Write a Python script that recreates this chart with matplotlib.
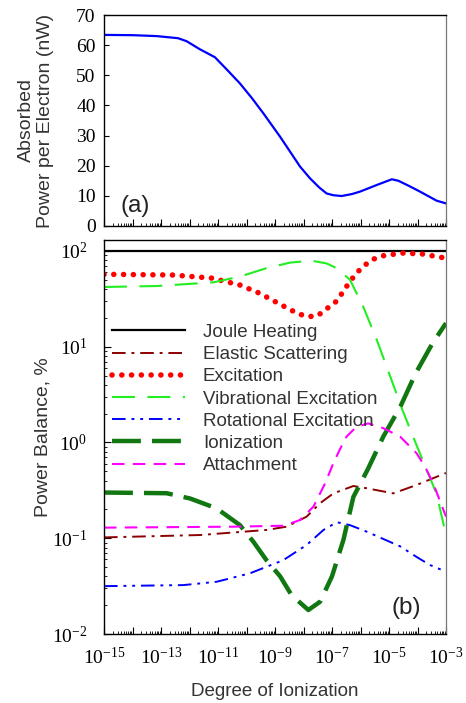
import numpy as np
import matplotlib
matplotlib.use("Agg")
import matplotlib.pyplot as plt
from matplotlib.ticker import FixedLocator, FuncFormatter, LogLocator, NullFormatter

plt.rcParams['font.family'] = ['Liberation Serif', 'DejaVu Serif']
plt.rcParams['mathtext.fontset'] = 'custom'
plt.rcParams['mathtext.rm'] = 'Liberation Serif'
plt.rcParams['mathtext.it'] = 'Liberation Serif:italic'

SANS = ['Liberation Sans', 'DejaVu Sans']

# ---------------- data (log10 of degree of ionization) ----------------
abs_x = [-15, -13.97, -13.15, -12.4, -12.1, -11.63, -11.11, -10.7, -10.23, -9.8, -9.41, -8.82, -8.12,
         -7.77, -7.45, -7.19, -6.95, -6.66, -6.3, -6.02, -5.43, -4.9, -4.67, -4.3, -3.91, -3.33, -3]
abs_y = [63.4, 63.3, 63.0, 62.3, 61.3, 58.6, 56.0, 52.0, 47.3, 42.3, 37.4, 29.6, 19.7,
         15.8, 12.8, 10.8, 10.2, 9.95, 10.6, 11.4, 13.6, 15.5, 15.0, 13.3, 11.4, 8.4, 7.5]

joule_x = [-15, -3]
joule_y = [100, 100]

elastic_x = [-15, -11.63, -9.3, -8.59, -7.89, -7.42, -6.95, -6.25, -5.77, -4.85, -4.03, -3]
elastic_y = [0.102, 0.108, 0.122, 0.132, 0.168, 0.232, 0.294, 0.351, 0.332, 0.294, 0.36, 0.48]

excit_x = [-15, -12.57, -11.22, -10.23, -9.53, -8.85, -8.18, -7.83, -7.51, -6.83, -6.6, -6.37, -6.13,
           -5.88, -5.55, -5.2, -4.55, -3.85, -3.2, -3]
excit_y = [57, 56, 52, 44, 36, 28, 22, 20.6, 21, 30, 38, 48, 59, 70, 82, 89, 95, 93, 86, 84]

vib_x = [-15, -13.15, -11.16, -10.23, -9.3, -8.47, -7.71, -7.19, -6.83, -6.37, -5.9, -5.43, -5.0,
         -4.53, -4.06, -3.68, -3.33, -3]
vib_y = [42, 43, 47, 54, 66, 75.5, 79, 74, 66, 50, 26, 11.8, 5.3, 2.19, 0.98, 0.52, 0.29, 0.108]

rot_x = [-15, -12.22, -11.05, -9.88, -8.71, -7.89, -7.3, -6.83, -6.37, -5.78, -4.6, -4.04, -3.56, -3]
rot_y = [0.0316, 0.0324, 0.0351, 0.043, 0.059, 0.085, 0.122, 0.147, 0.137, 0.117, 0.082, 0.064, 0.0525, 0.0447]

ion_x = [-15, -12.8, -11.98, -11.05, -10.23, -9.76, -9.3, -8.82, -8.42, -7.83, -7.42, -7.0, -6.6,
         -6.25, -5.75, -5.2, -4.6, -4.06, -3.47, -3]
ion_y = [0.30, 0.295, 0.26, 0.205, 0.137, 0.092, 0.059, 0.040, 0.0255, 0.0178, 0.0217, 0.04, 0.096,
         0.27, 0.52, 1.15, 2.37, 5.3, 10.9, 17.6]

att_x = [-15, -10.46, -8.7, -8.12, -7.65, -7.24, -6.95, -6.72, -6.49, -6.14, -5.73, -5.2, -4.61,
         -4.03, -3.74, -3.45, -3]
att_y = [0.129, 0.132, 0.135, 0.155, 0.214, 0.375, 0.61, 0.85, 1.15, 1.46, 1.58, 1.41, 1.15,
         0.77, 0.56, 0.375, 0.168]

labels = ["Joule Heating", "Elastic Scattering", "Excitation", "Vibrational Excitation",
          "Rotational Excitation", "Ionization", "Attachment"]

p = lambda a: 10.0 ** np.asarray(a)

fig = plt.figure(figsize=(4.66, 7.03), dpi=100)
W, H = 466, 703
L, R = 104, 446
ax1 = fig.add_axes([L / W, 1 - 226 / H, (R - L) / W, (226 - 15) / H])
ax2 = fig.add_axes([L / W, 1 - 634 / H, (R - L) / W, (634 - 240) / H])

# ---------------- top panel ----------------
ax1.plot(p(abs_x), abs_y, color='#0000ff', lw=1.6)
ax1.set_xscale('log')
ax1.set_xlim(1e-15, 1e-3)
ax1.set_ylim(0, 70)
ax1.set_yticks(range(0, 71, 10))
ax1.tick_params(axis='y', direction='in', length=3.5, width=0.8, labelsize=14, pad=6)
ax1.xaxis.set_major_locator(FixedLocator([10.0 ** k for k in range(-15, -2)]))
ax1.xaxis.set_minor_locator(LogLocator(base=10, subs=np.arange(2, 10), numticks=100))
ax1.xaxis.set_major_formatter(NullFormatter())
ax1.xaxis.set_minor_formatter(NullFormatter())
ax1.tick_params(axis='x', which='major', direction='in', length=5, width=0.8)
ax1.tick_params(axis='x', which='minor', direction='in', length=2.5, width=0.6)
ax1.set_ylabel("Absorbed\nPower per Electron (nW)", fontsize=14, family=SANS,
               color='#333333', linespacing=1.2)
ax1.yaxis.set_label_coords(-0.145, 0.5)
ax1.text(0.047, 0.095, "(a)", transform=ax1.transAxes, fontsize=17.5, family=SANS,
         va='center', ha='left', color='#222222')

# ---------------- bottom panel ----------------
ax2.plot(p(joule_x), joule_y, color='black', lw=1.6, label=labels[0])
ax2.plot(p(elastic_x), elastic_y, color='#8b0000', lw=1.4, dashes=(7, 3, 1.5, 3), label=labels[1])
ax2.plot(p(excit_x), excit_y, color='#ff0000', lw=4, dashes=(0.01, 1.75),
         dash_capstyle='round', label=labels[2])
ax2.plot(p(vib_x), vib_y, color='#22ee22', lw=1.5, dashes=(11, 6), label=labels[3])
ax2.plot(p(rot_x), rot_y, color='#0000ff', lw=1.4, dashes=(7, 3, 1.5, 3, 1.5, 3), label=labels[4])
ax2.plot(p(ion_x), ion_y, color='#117711', lw=3.2, dashes=(6.5, 2.5), label=labels[5])
ax2.plot(p(att_x), att_y, color='#ff00ff', lw=1.5, dashes=(6, 4), label=labels[6])

ax2.set_xscale('log')
ax2.set_yscale('log')
ax2.set_xlim(1e-15, 1e-3)
ax2.set_ylim(1e-2, 130)
ax2.xaxis.set_major_locator(FixedLocator([10.0 ** k for k in range(-15, -2)]))
ax2.xaxis.set_minor_locator(LogLocator(base=10, subs=np.arange(2, 10), numticks=100))


def xfmt(v, pos):
    e = int(round(np.log10(v)))
    if e % 2 == 0:
        return ""
    return r"$\mathdefault{10^{%d}}$" % e


ax2.xaxis.set_major_formatter(FuncFormatter(xfmt))
ax2.xaxis.set_minor_formatter(NullFormatter())
ax2.yaxis.set_major_locator(FixedLocator([1e-2, 1e-1, 1e0, 1e1, 1e2]))
ax2.yaxis.set_minor_locator(LogLocator(base=10, subs=np.arange(2, 10), numticks=100))
ax2.yaxis.set_major_formatter(FuncFormatter(lambda v, pos: r"$\mathdefault{10^{%d}}$" % int(round(np.log10(v)))))
ax2.yaxis.set_minor_formatter(NullFormatter())
ax2.tick_params(axis='x', which='major', direction='in', length=5, width=0.8, labelsize=14, pad=9)
ax2.tick_params(axis='x', which='minor', direction='in', length=2.5, width=0.6)
ax2.tick_params(axis='y', which='major', direction='in', length=5, width=0.8, labelsize=14, pad=12)
ax2.tick_params(axis='y', which='minor', direction='in', length=2.5, width=0.6)
ax2.set_xlabel("Degree of Ionization", fontsize=13.5, family=SANS, color='#333333', labelpad=11)
ax2.set_ylabel("Power Balance, %", fontsize=14, family=SANS, color='#333333')
ax2.yaxis.set_label_coords(-0.154, 0.5)
ax2.text(0.842, 0.066, "(b)", transform=ax2.transAxes, fontsize=17.5, family=SANS,
         va='center', ha='left', color='#222222')

leg = ax2.legend(loc='upper left', bbox_to_anchor=(0.023, 0.787), frameon=False,
                 prop={'family': SANS, 'size': 13.5}, handlelength=3.9, handletextpad=0.95,
                 labelspacing=0.27, borderpad=0, borderaxespad=0)
for t in leg.get_texts():
    t.set_color('#333333')

for ax in (ax1, ax2):
    for s in ('left', 'bottom', 'top'):
        ax.spines[s].set_linewidth(1.0)
        ax.spines[s].set_color('black')
    ax.spines['right'].set_linewidth(0.9)
    ax.spines['right'].set_color('#777777')

fig.savefig("out.png", dpi=100)
